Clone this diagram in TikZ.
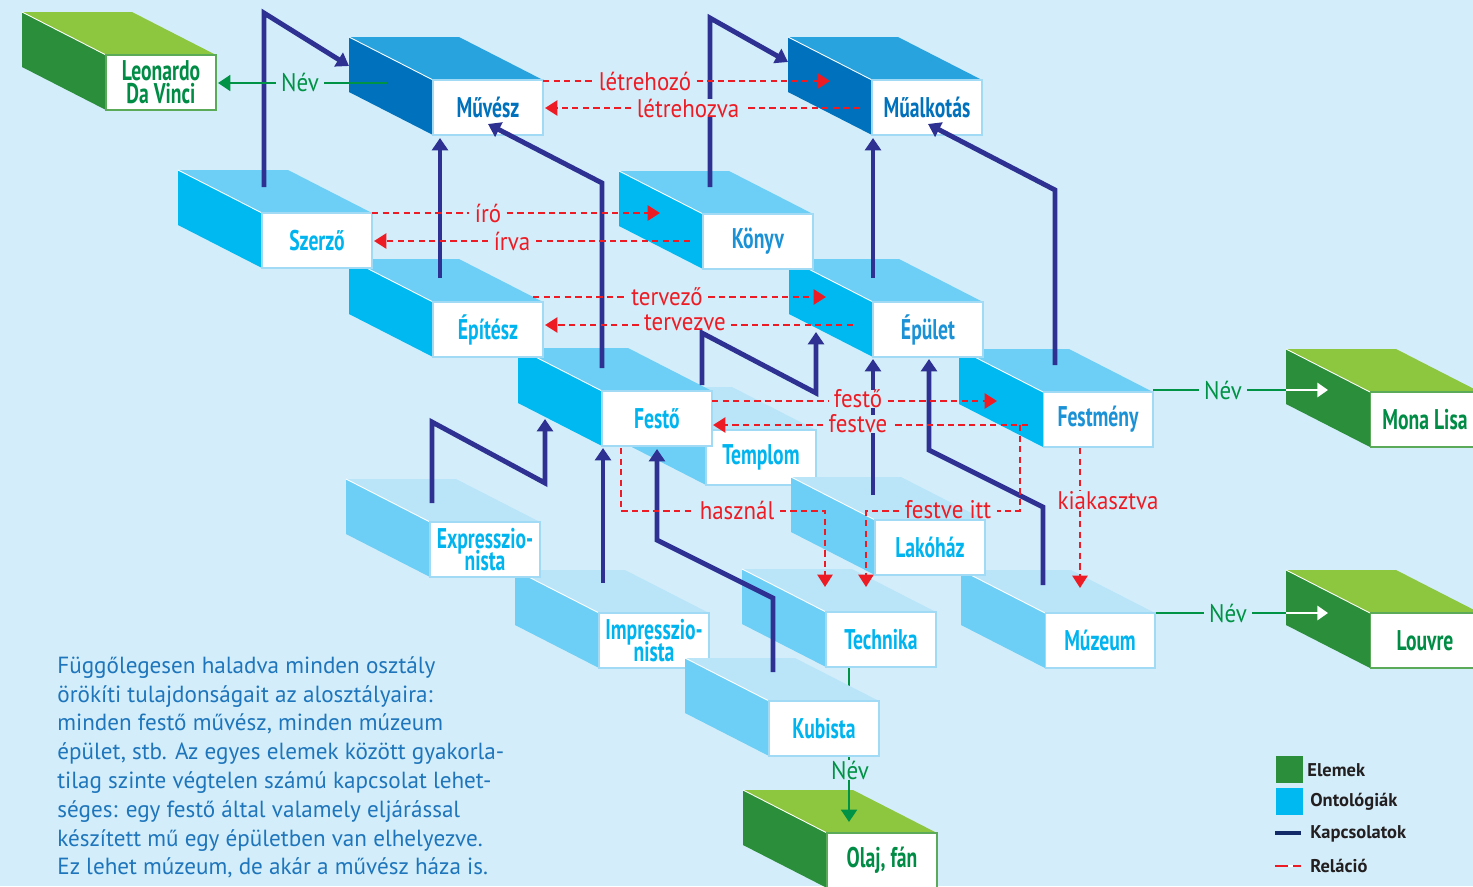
\documentclass[tikz,border=0pt]{standalone}
\usepackage{fontspec}
\setmainfont{PT Sans}
\newfontfamily\boxfont[FakeStretch=0.69]{PT Sans}
\newfontfamily\labfont[FakeStretch=0.9]{PT Sans}
\newfontfamily\txtfont[FakeStretch=0.99]{PT Sans}
\usetikzlibrary{arrows.meta,calc}
\newcommand\tightlines{\lineskiplimit -20pt\relax\lineskip 0pt\relax}
\definecolor{cBg}{RGB}{211,238,250}
\definecolor{gTop}{RGB}{141,198,63}
\definecolor{gSide}{RGB}{42,142,58}
\definecolor{gText}{RGB}{0,140,69}
\definecolor{gBord}{RGB}{90,170,90}
\definecolor{dTop}{RGB}{41,163,221}
\definecolor{dSide}{RGB}{0,113,188}
\definecolor{mTop}{RGB}{109,207,246}
\definecolor{mSide}{RGB}{0,185,241}
\definecolor{lTop}{RGB}{186,229,249}
\definecolor{lSide}{RGB}{109,207,246}
\definecolor{cText}{RGB}{0,181,239}
\definecolor{bText}{RGB}{27,145,214}
\definecolor{fBord}{RGB}{160,218,244}
\definecolor{cKap}{RGB}{46,49,146}
\definecolor{cRel}{RGB}{237,28,36}
\definecolor{cNev}{RGB}{0,146,69}
\definecolor{cDesc}{RGB}{30,117,187}
\definecolor{cLeg}{RGB}{35,31,32}
\definecolor{cLegKap}{RGB}{18,42,104}
% #1 name, #2 x, #3 y, #4 text, #5 top, #6 side, #7 text colour, #8 border
\newcommand\obox[8]{%
  \fill[#6] (#2-84,#3-43) -- (#2,#3) -- (#2,#3+55) -- (#2-84,#3+12) -- cycle;
  \fill[#5] (#2-84,#3-43) -- (#2+26,#3-43) -- (#2+110,#3) -- (#2,#3) -- cycle;
  \draw[white,line width=0.5pt] (#2-84,#3-43) -- (#2,#3);
  \node[frontbox,text=#7,draw=#8] (#1) at (#2+55,#3+27.5) {#4};}
\begin{document}
\begin{tikzpicture}[x=0.02cm,y=-0.02cm,
  frontbox/.style={fill=white,line width=0.6pt,minimum width=2.2cm,minimum height=1.1cm,
    inner sep=0pt,align=center,
    font=\boxfont\bfseries\fontsize{16.2}{13}\selectfont\tightlines},
  kapl/.style={draw=cKap,line width=2.8pt,miter limit=10},
  kapa/.style={kapl,-{Triangle[width=9pt,length=7pt]}},
  rell/.style={draw=cRel,line width=1.4pt,dash pattern=on 3.6pt off 2.4pt},
  rela/.style={rell,-{Triangle[width=8.5pt,length=7pt]}},
  rlab/.style={font=\labfont\fontsize{14.5}{16}\selectfont,text=cRel,inner xsep=3pt,inner ysep=0pt},
  nevl/.style={draw=cNev,line width=1.3pt},
  neva/.style={nevl,-{Triangle[width=9pt,length=7pt]}},
  whta/.style={draw=white,line width=1.3pt,-{Triangle[width=8pt,length=6pt]}},
  nlab/.style={font=\labfont\fontsize{14.5}{16}\selectfont,text=cNev,inner xsep=3pt,inner ysep=0pt},
  legt/.style={font=\bfseries\fontsize{10.5}{12}\selectfont,text=cLeg,anchor=west,inner sep=0pt}]
\useasboundingbox (0,0) rectangle (1473,886);
\clip (0,0) rectangle (1473,886);
\fill[cBg] (0,0) rectangle (1473,886);

% ---------- boxes (lower rows first) ----------
\obox{olaj}{827}{833}{Olaj, fán}{gTop}{gSide}{gText}{gBord}
\obox{impr}{599}{613}{Impresszio-\\nista}{lTop}{lSide}{cText}{fBord}
\coordinate (n4a) at (849,667);
\coordinate (n4b) at (849,692);
\draw[nevl] (n4a) -- (n4b);
\obox{kub}{769}{701}{Kubista}{lTop}{lSide}{cText}{fBord}
\obox{tech}{826}{612}{Technika}{lTop}{lSide}{cText}{fBord}
\obox{muz}{1045}{613}{Múzeum}{lTop}{lSide}{cText}{fBord}
\obox{louvre}{1370}{613}{Louvre}{gTop}{gSide}{gText}{gBord}
\obox{templ}{706}{430}{Templom}{lTop}{lSide}{cText}{fBord}
\obox{expr}{430}{522}{Expresszio-\\nista}{lTop}{lSide}{cText}{fBord}
\obox{lako}{875}{520}{Lakóház}{lTop}{lSide}{cText}{fBord}
\obox{festo}{602}{391}{Festő}{mTop}{mSide}{cText}{fBord}
\obox{festm}{1043}{392}{Festmény}{mTop}{mSide}{bText}{fBord}
\obox{mona}{1370}{392}{Mona Lisa}{gTop}{gSide}{gText}{gBord}
\obox{epit}{433}{302}{Építész}{mTop}{mSide}{cText}{fBord}
\obox{epul}{873}{302}{Épület}{mTop}{mSide}{bText}{fBord}
\obox{szerzo}{262}{213}{Szerző}{mTop}{mSide}{cText}{fBord}
\obox{konyv}{703}{214}{Könyv}{mTop}{mSide}{bText}{fBord}
\obox{muvesz}{433}{80}{Művész}{dTop}{dSide}{dSide}{fBord}
\obox{mualk}{872}{80}{Műalkotás}{dTop}{dSide}{dSide}{fBord}
\obox{leo}{106}{55}{Leonardo\\Da Vinci}{gTop}{gSide}{gText}{gBord}

% ---------- Kapcsolatok (navy) ----------
\coordinate (A1) at (264,187); \coordinate (A2) at (264,13); \coordinate (A3) at (349,66);
\draw[kapa] (A1) -- (A2) -- (A3);
\coordinate (B1) at (440,278); \coordinate (B2) at (440,138);
\draw[kapa] (B1) -- (B2);
\coordinate (C1) at (602,368); \coordinate (C2) at (602,183); \coordinate (C3) at (488,124);
\draw[kapa] (C1) -- (C2) -- (C3);
\coordinate (D1) at (710,187); \coordinate (D2) at (710,18); \coordinate (D3) at (788,62);
\draw[kapa] (D1) -- (D2) -- (D3);
\coordinate (E1) at (873,278); \coordinate (E2) at (873,138);
\draw[kapa] (E1) -- (E2);
\coordinate (F1) at (1055,365); \coordinate (F2) at (1055,190); \coordinate (F3) at (928,124);
\draw[kapa] (F1) -- (F2) -- (F3);
\coordinate (G1) at (432,503); \coordinate (G2) at (432,422); \coordinate (G3) at (545,483); \coordinate (G4) at (545,419);
\draw[kapa] (G1) -- (G2) -- (G3) -- (G4);
\coordinate (H1) at (603,583); \coordinate (H2) at (603,448);
\draw[kapa] (H1) -- (H2);
\coordinate (I1) at (773,672); \coordinate (I2) at (773,598); \coordinate (I3) at (657,540); \coordinate (I4) at (657,449);
\draw[kapa] (I1) -- (I2) -- (I3) -- (I4);
\coordinate (J1) at (702,385); \coordinate (J2) at (702,333); \coordinate (J3) at (816,393); \coordinate (J4) at (816,332);
\draw[kapa] (J1) -- (J2) -- (J3) -- (J4);
\coordinate (K1) at (873,495); \coordinate (K2) at (873,359);
\draw[kapa] (K1) -- (K2);
\coordinate (L1) at (1043,585); \coordinate (L2) at (1043,507); \coordinate (L3) at (929,450); \coordinate (L4) at (929,359);
\draw[kapa] (L1) -- (L2) -- (L3) -- (L4);

% ---------- Relációk (red) ----------
\node[rlab] (r1) at (645,81) {létrehozó};
\coordinate (r1s) at (543,81); \coordinate (r1t) at (830,81);
\draw[rell] (r1s) -- (r1.west); \draw[rela] (r1.east) -- (r1t);
\node[rlab,fill=cBg] (r2) at (688,108) {létrehozva};
\coordinate (r2s) at (860,108); \coordinate (r2t) at (545,108);
\draw[rell] (r2s) -- (r2.east); \draw[rela] (r2.west) -- (r2t);
\node[rlab] (r3) at (488,213) {író};
\coordinate (r3s) at (372,213); \coordinate (r3t) at (660,213);
\draw[rell] (r3s) -- (r3.west); \draw[rela] (r3.east) -- (r3t);
\node[rlab] (r4) at (512,241) {írva};
\coordinate (r4s) at (690,241); \coordinate (r4t) at (374,241);
\draw[rell] (r4s) -- (r4.east); \draw[rela] (r4.west) -- (r4t);
\node[rlab] (r5) at (667,297) {tervező};
\coordinate (r5s) at (533,297); \coordinate (r5t) at (826,297);
\draw[rell] (r5s) -- (r5.west); \draw[rela] (r5.east) -- (r5t);
\node[rlab] (r6) at (685,323) {tervezve};
\coordinate (r6s) at (853,325); \coordinate (r6t) at (545,325);
\draw[rell] (r6s) -- (r6.east |- r6s); \draw[rela] (r6.west |- r6s) -- (r6t);
\node[rlab,fill=cBg] (r7) at (858,399) {festő};
\coordinate (r7s) at (712,401); \coordinate (r7t) at (997,401);
\draw[rell] (r7s) -- (r7.west |- r7s); \draw[rela] (r7.east |- r7s) -- (r7t);
\node[rlab,fill=cBg] (r8) at (858,424) {festve};
\coordinate (r8s) at (1028,425); \coordinate (r8t) at (713,425);
\draw[rell] (r8s) -- (r8.east |- r8s); \draw[rela] (r8.west |- r8s) -- (r8t);
\node[rlab] (r9) at (948,510) {festve itt};
\coordinate (r9s) at (1020,425); \coordinate (r9b) at (1020,511); \coordinate (r9c) at (866,511); \coordinate (r9t) at (866,587);
\draw[rell] (r9s) -- (r9b) -- (r9.east |- r9b); \draw[rela] (r9.west |- r9b) -- (r9c) -- (r9t);
\node[rlab] (r10) at (737,510) {használ};
\coordinate (r10s) at (621,448); \coordinate (r10b) at (621,511); \coordinate (r10c) at (825,511); \coordinate (r10t) at (825,587);
\draw[rell] (r10s) -- (r10b) -- (r10.west |- r10b); \draw[rela] (r10.east |- r10b) -- (r10c) -- (r10t);
\node[rlab] (r11) at (1108,501) {kiakasztva};
\coordinate (r11s) at (1080,448); \coordinate (r11t) at (1080,588);
\draw[rell] (r11s) -- (r11.north -| r11s); \draw[rela] (r11.south -| r11s) -- (r11t);

% ---------- Név (green) ----------
\node[nlab] (n1) at (300,82) {Név};
\coordinate (n1s) at (387,83); \coordinate (n1t) at (218,83);
\draw[nevl] (n1s) -- (n1.east |- n1s); \draw[neva] (n1.west |- n1s) -- (n1t);
\node[nlab] (n2) at (1223,390) {Név};
\coordinate (n2s) at (1153,390); \coordinate (n2w) at (1286,390); \coordinate (n2t) at (1328,390);
\draw[nevl] (n2s) -- (n2.west |- n2s); \draw[nevl] (n2.east |- n2s) -- (n2w); \draw[whta] (n2w) -- (n2t);
\node[nlab] (n3) at (1228,613) {Név};
\coordinate (n3s) at (1156,613); \coordinate (n3w) at (1286,613); \coordinate (n3t) at (1328,613);
\draw[nevl] (n3s) -- (n3.west |- n3s); \draw[nevl] (n3.east |- n3s) -- (n3w); \draw[whta] (n3w) -- (n3t);
\node[nlab] (n4) at (850,770) {Név};
\coordinate (n4c) at (849,757); \coordinate (n4t) at (849,822);
\draw[nevl] (n4c) -- (n4.north -| n4c); \draw[neva] (n4.south -| n4c) -- (n4t);

% ---------- description ----------
\node[anchor=north west,align=left,inner sep=0pt,text=cDesc,
  font=\txtfont\fontsize{13.3}{16.4}\selectfont] (desc) at (57,656)
  {Függőlegesen haladva minden osztály\\
   örökíti tulajdonságait az alosztályaira:\\
   minden festő művész, minden múzeum\\
   épület, stb. Az egyes elemek között gyakorla-\\
   tilag szinte végtelen számú kapcsolat lehet-\\
   séges: egy festő által valamely eljárással\\
   készített mű egy épületben van elhelyezve.\\
   Ez lehet múzeum, de akár a művész háza is.};

% ---------- legend ----------
\fill[gSide] (1276,756) rectangle (1303,783);
\node[legt] (le1) at (1307,770) {Elemek};
\fill[mSide] (1276,788) rectangle (1303,815);
\node[legt] (le2) at (1310,802) {Ontológiák};
\draw[cLegKap,line width=2.3pt] (1275,833) -- (1301,833);
\node[legt] (le3) at (1310,834) {Kapcsolatok};
\draw[cRel,line width=1.6pt] (1275,866) -- (1288,866);
\draw[white,line width=1.6pt] (1288,866) -- (1293,866);
\draw[cRel,line width=1.6pt] (1293,866) -- (1301,866);
\node[legt] (le4) at (1310,866) {Reláció};
\end{tikzpicture}
\end{document}
